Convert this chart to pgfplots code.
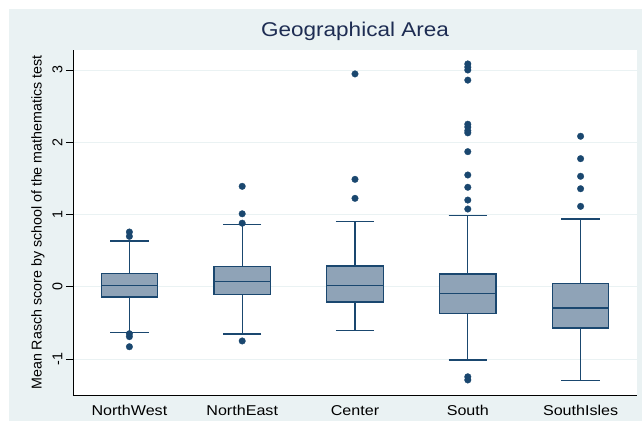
\documentclass[border=0pt]{standalone}
\usepackage{fontspec}
\setmainfont{Liberation Sans}[FakeStretch=1.13]
\newfontfamily\rotfont{Liberation Sans}
\usepackage{pgfplots}
\pgfplotsset{compat=1.18}
\usepgfplotslibrary{statistics}
\definecolor{bgc}{HTML}{EAF2F3}
\definecolor{boxfill}{HTML}{8FA3B7}
\definecolor{navy}{HTML}{1A476F}
\definecolor{titlec}{HTML}{1E2D53}
\begin{document}
\begin{tikzpicture}
\path[use as bounding box] (-73bp,-26bp) rectangle (569bp,395bp);
\fill[white] (-73bp,-26bp) rectangle (569bp,395bp);
\fill[bgc] (-64bp,-26bp) rectangle (569bp,386bp);
\fill[white] (0bp,0bp) rectangle (564bp,345bp);
\begin{axis}[
  at={(0,0)}, anchor=south west,
  scale only axis, width=564bp, height=345bp,
  xmin=0.5, xmax=5.5, ymin=-1.498, ymax=3.277,
  axis x line*=bottom, axis y line*=left,
  axis line style={-, black, line width=0.8bp},
  xtick={1,2,3,4,5},
  xticklabels={NorthWest,NorthEast,Center,South,SouthIsles},
  xtick style={draw=none},
  xticklabel style={anchor=base, yshift=-13bp, font=\fontsize{14.3}{17}\selectfont, text=black},
  ytick={-1,0,1,2,3},
  yticklabels={-1,0,1,2,3},
  tick align=outside,
  major tick length=7bp,
  ytick style={black, line width=0.8bp},
  yticklabel style={rotate=90, anchor=south, font=\rotfont\fontsize{14.3}{17}\selectfont, text=black},
  ymajorgrids,
  grid style={bgc, line width=1bp},
  ylabel={Mean Rasch score by school of the mathematics test},
  ylabel style={at={(axis description cs:-0.062,0.5)}, anchor=center, rotate=0, font=\rotfont\fontsize{14.3}{17}\selectfont},
  title={Geographical Area},
  title style={at={(axis description cs:0.5,1.0212)}, anchor=base, font=\fontsize{20}{24}\selectfont, text=titlec},
  boxplot/draw direction=y,
  boxplot/box extend=0.5,
  boxplot/whisker extend=0.34,
  clip=false,
]
\pgfplotsset{mybox/.style={draw=navy, fill=boxfill, line width=1.3bp, mark=*, mark size=3.3bp, mark options={fill=navy, draw=navy, line width=0.3bp}}}
\addplot[mybox, boxplot prepared={draw position=1, lower whisker=-0.632, lower quartile=-0.143, median=0.014, upper quartile=0.18, upper whisker=0.633}]
  table[row sep=\\, y index=0] {0.758\\ 0.698\\ -0.65\\ -0.69\\ -0.83\\};
\addplot[mybox, boxplot prepared={draw position=2, lower whisker=-0.655, lower quartile=-0.105, median=0.07, upper quartile=0.282, upper whisker=0.86}]
  table[row sep=\\, y index=0] {1.39\\ 1.01\\ 0.88\\ -0.75\\};
\addplot[mybox, boxplot prepared={draw position=3, lower whisker=-0.609, lower quartile=-0.212, median=0.014, upper quartile=0.287, upper whisker=0.90}]
  table[row sep=\\, y index=0] {2.946\\ 1.487\\ 1.224\\};
\addplot[mybox, boxplot prepared={draw position=4, lower whisker=-1.015, lower quartile=-0.374, median=-0.092, upper quartile=0.176, upper whisker=0.983}]
  table[row sep=\\, y index=0] {3.084\\ 3.04\\ 3.0\\ 2.86\\ 2.25\\ 2.21\\ 2.16\\ 2.13\\ 1.87\\ 1.547\\ 1.377\\ 1.2\\ 1.076\\ -1.246\\ -1.29\\};
\addplot[mybox, boxplot prepared={draw position=5, lower whisker=-1.297, lower quartile=-0.572, median=-0.295, upper quartile=0.042, upper whisker=0.937}]
  table[row sep=\\, y index=0] {2.083\\ 1.773\\ 1.529\\ 1.357\\ 1.113\\};
\end{axis}
\end{tikzpicture}
\end{document}
